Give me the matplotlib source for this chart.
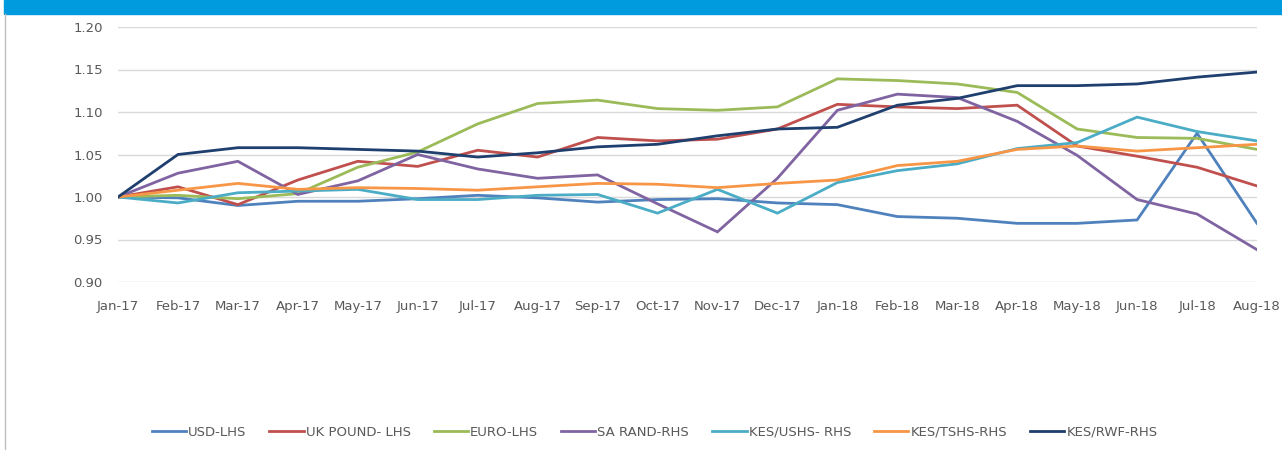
import matplotlib.pyplot as plt
from matplotlib.patches import Rectangle
from matplotlib.lines import Line2D

# data
months = ["Jan-17", "Feb-17", "Mar-17", "Apr-17", "May-17", "Jun-17", "Jul-17",
          "Aug-17", "Sep-17", "Oct-17", "Nov-17", "Dec-17", "Jan-18", "Feb-18",
          "Mar-18", "Apr-18", "May-18", "Jun-18", "Jul-18", "Aug-18"]

usd = [1.000, 0.999, 0.990, 0.995, 0.995, 0.998, 1.002, 0.999, 0.994, 0.997,
       0.998, 0.993, 0.991, 0.977, 0.975, 0.969, 0.969, 0.973, 1.075, 0.969]
uk_pound = [1.000, 1.012, 0.991, 1.020, 1.042, 1.036, 1.055, 1.047, 1.070, 1.066,
            1.068, 1.080, 1.109, 1.106, 1.104, 1.108, 1.060, 1.048, 1.035, 1.013]
euro = [1.000, 1.002, 0.998, 1.004, 1.035, 1.053, 1.086, 1.110, 1.114, 1.104,
        1.102, 1.106, 1.139, 1.137, 1.133, 1.123, 1.080, 1.070, 1.069, 1.056]
sa_rand = [1.000, 1.028, 1.042, 1.003, 1.019, 1.050, 1.033, 1.022, 1.026, 0.992,
           0.959, 1.022, 1.102, 1.121, 1.117, 1.089, 1.049, 0.997, 0.980, 0.938]
kes_ushs = [1.000, 0.993, 1.005, 1.007, 1.009, 0.997, 0.997, 1.002, 1.003, 0.981,
            1.009, 0.981, 1.017, 1.031, 1.039, 1.057, 1.064, 1.094, 1.077, 1.066]
kes_tshs = [1.000, 1.008, 1.016, 1.009, 1.011, 1.010, 1.008, 1.012, 1.016, 1.015,
            1.011, 1.016, 1.020, 1.037, 1.042, 1.056, 1.060, 1.054, 1.058, 1.062]
kes_rwf = [1.000, 1.050, 1.058, 1.058, 1.056, 1.054, 1.047, 1.052, 1.059, 1.062,
           1.072, 1.080, 1.082, 1.108, 1.116, 1.131, 1.131, 1.133, 1.141, 1.147]

series = [("USD-LHS", usd, "#4F81BD"),
          ("UK POUND- LHS", uk_pound, "#C0504D"),
          ("EURO-LHS", euro, "#9BBB59"),
          ("SA RAND-RHS", sa_rand, "#8064A2"),
          ("KES/USHS- RHS", kes_ushs, "#4BACC6"),
          ("KES/TSHS-RHS", kes_tshs, "#F79646"),
          ("KES/RWF-RHS", kes_rwf, "#1F3F6E")]

fig = plt.figure(figsize=(12.82, 4.5), dpi=100)

# blue header band and left border
fig.patches.append(Rectangle((4/1282, 1 - 14/450), 1, 14/450, transform=fig.transFigure,
                             color="#009ADE", zorder=0))
fig.add_artist(Line2D([4.5/1282, 4.5/1282], [0, 1 - 14/450], transform=fig.transFigure,
                      color="#BFBFBF", lw=1))

ax = fig.add_axes([118/1282, 1 - 282/450, (1257 - 118)/1282, 255/450])
x = list(range(len(months)))
for name, vals, col in series:
    ax.plot(x, vals, color=col, lw=2.0, label=name, solid_joinstyle="miter")

ax.set_xlim(0, len(months) - 1)
ax.set_ylim(0.90, 1.20)
ax.set_yticks([0.90, 0.95, 1.00, 1.05, 1.10, 1.15, 1.20])
ax.set_yticklabels(["%.2f" % v for v in ax.get_yticks()])
ax.set_xticks(x)
ax.set_xticklabels(months)
ax.grid(axis="y", color="#D9D9D9", lw=1)
ax.set_axisbelow(True)
for s in ax.spines.values():
    s.set_visible(False)
ax.tick_params(length=0, colors="#595959", labelsize=9.5)
ax.tick_params(axis="y", pad=11)
ax.tick_params(axis="x", pad=13)

fig.legend(loc="center", bbox_to_anchor=(0.5105, 1 - 432/450), ncol=7, frameon=False,
           fontsize=9.5, handlelength=2.6, columnspacing=1.75, handletextpad=0.15,
           labelcolor="#595959")

plt.savefig("out.png", dpi=100)
